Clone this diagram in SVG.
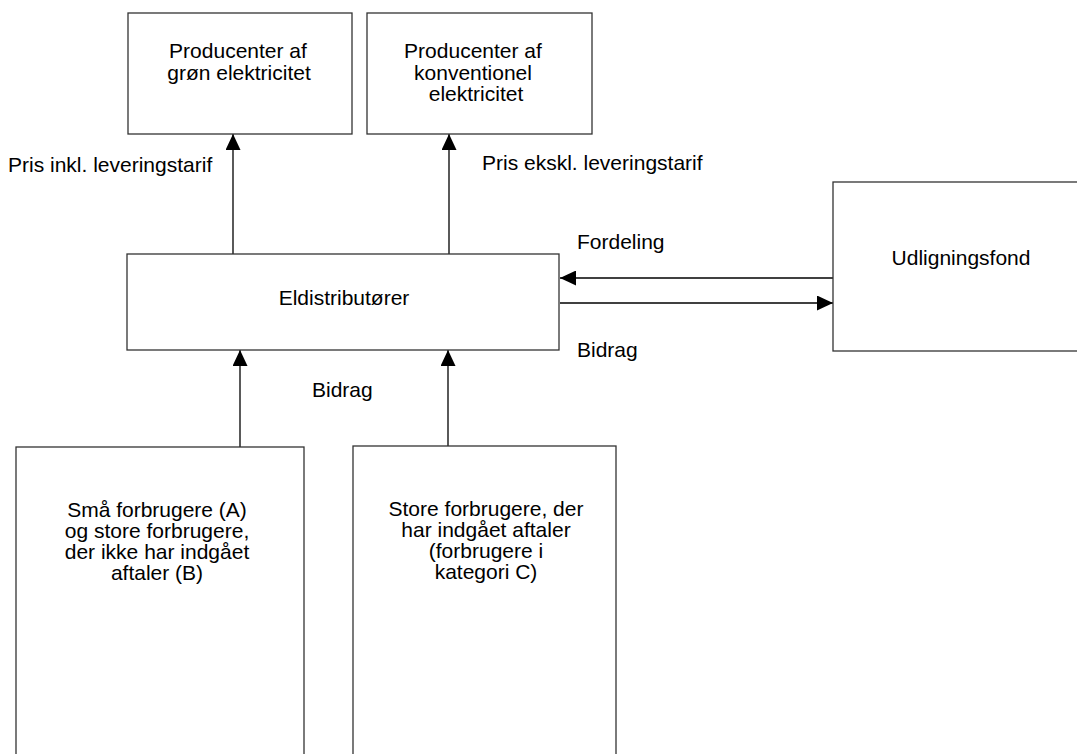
<svg xmlns="http://www.w3.org/2000/svg" width="1077" height="754" viewBox="0 0 1077 754">
<style>
.box{fill:#fff;stroke:#333;stroke-width:1.3}
.t{font-family:"Liberation Sans",Arial,sans-serif;font-size:21px;fill:#000}
.c{text-anchor:middle}
.ln{stroke:#000;stroke-width:1.3;fill:none}
</style>
<defs>
<marker id="ah" markerUnits="userSpaceOnUse" markerWidth="16" markerHeight="15" refX="16" refY="7.5" orient="auto">
<path d="M0,0 L16,7.5 L0,15 z" fill="#000"/>
</marker>
</defs>
<rect width="1077" height="754" fill="#fff"/>
<g id="connectors">
<line class="ln" x1="233" y1="254" x2="233" y2="134" marker-end="url(#ah)"/>
<line class="ln" x1="449" y1="254" x2="449" y2="134" marker-end="url(#ah)"/>
<line class="ln" x1="833" y1="278" x2="560" y2="278" marker-end="url(#ah)"/>
<line class="ln" x1="560" y1="303" x2="833" y2="303" marker-end="url(#ah)"/>
<line class="ln" x1="240" y1="447" x2="240" y2="350" marker-end="url(#ah)"/>
<line class="ln" x1="448" y1="446" x2="448" y2="350" marker-end="url(#ah)"/>
<text class="t" x="8" y="172">Pris inkl. leveringstarif</text>
<text class="t" x="482" y="170">Pris ekskl. leveringstarif</text>
<text class="t" x="577" y="249">Fordeling</text>
<text class="t" x="577" y="357">Bidrag</text>
<text class="t" x="312" y="397">Bidrag</text>
</g>
<g id="green">
<rect class="box" x="128" y="13" width="224" height="121"/>
<text class="t c" x="238" y="58">Producenter af</text>
<text class="t c" x="239" y="80">grøn elektricitet</text>
</g>
<g id="conventional">
<rect class="box" x="367" y="13" width="225" height="121"/>
<text class="t c" x="473" y="58">Producenter af</text>
<text class="t c" x="473" y="80">konventionel</text>
<text class="t c" x="476" y="101">elektricitet</text>
</g>
<g id="distributors">
<rect class="box" x="127" y="254" width="432" height="96"/>
<text class="t c" x="344" y="305">Eldistributører</text>
</g>
<g id="fund">
<rect class="box" x="833" y="182" width="250" height="169"/>
<text class="t c" x="961" y="265">Udligningsfond</text>
</g>
<g id="consumersAB">
<rect class="box" x="16" y="447" width="288" height="320"/>
<text class="t c" x="157" y="517">Små forbrugere (A)</text>
<text class="t c" x="157" y="538">og store forbrugere,</text>
<text class="t c" x="157" y="559">der ikke har indgået</text>
<text class="t c" x="157" y="580">aftaler (B)</text>
</g>
<g id="consumersC">
<rect class="box" x="353" y="446" width="263" height="320"/>
<text class="t c" x="486" y="516">Store forbrugere, der</text>
<text class="t c" x="486" y="537">har indgået aftaler</text>
<text class="t c" x="486" y="558">(forbrugere i</text>
<text class="t c" x="486" y="579">kategori C)</text>
</g>
</svg>
